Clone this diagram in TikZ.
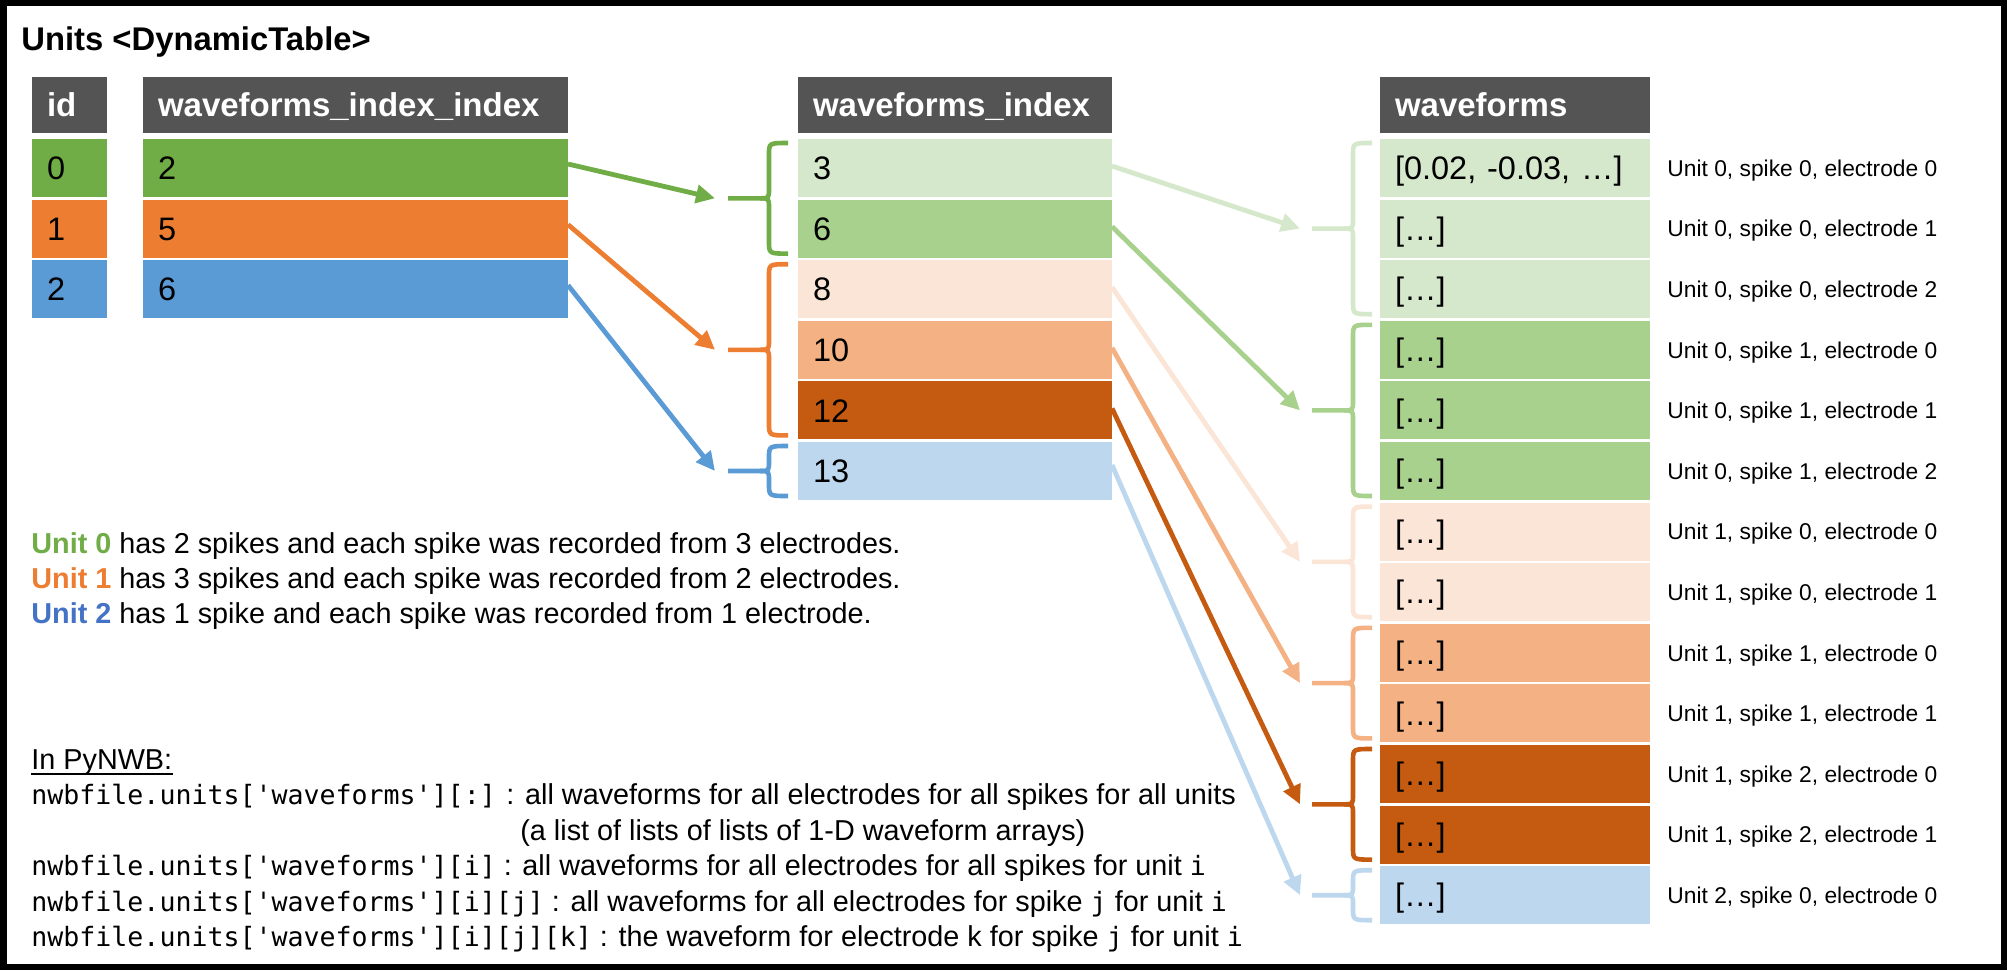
\documentclass[tikz,border=0pt]{standalone}
\usepackage{fontspec}
\setmainfont{Liberation Sans}
\newfontfamily\codefont{DejaVu Sans Mono}
\usetikzlibrary{arrows.meta}
\definecolor{hdr}{HTML}{545454}
\definecolor{gA}{HTML}{70AD47}
\definecolor{oA}{HTML}{ED7D31}
\definecolor{bA}{HTML}{5B9BD5}
\definecolor{gL}{HTML}{D5E8CB}
\definecolor{gM}{HTML}{A9D18E}
\definecolor{oL}{HTML}{FBE5D6}
\definecolor{oM}{HTML}{F4B183}
\definecolor{oD}{HTML}{C55A11}
\definecolor{bL}{HTML}{BDD7EE}
\definecolor{bT}{HTML}{4472C4}
\newcommand{\cdtxt}[1]{{\codefont\fontsize{13.3pt}{16pt}\selectfont #1}}
\newcommand{\mybrace}[5]{%
  \pgfmathsetmacro\mybm{(#3+#4)/2}%
  \draw[bracestyle,#1] (#2+19,#3) .. controls (#2,#3) .. (#2,#3+12) -- (#2,\mybm-10) .. controls (#2,\mybm) .. (#2-9,\mybm) -- (#5,\mybm);
  \draw[bracestyle,#1] (#2-9,\mybm) .. controls (#2,\mybm) .. (#2,\mybm+10) -- (#2,#4-12) .. controls (#2,#4) .. (#2+19,#4);
}
\tikzset{
  cell/.style={draw=none, inner xsep=7.5pt, inner ysep=0pt, outer sep=0pt,
    minimum height=29pt, text height=11.6pt, text depth=0pt,
    font=\fontsize{16.25pt}{19pt}\selectfont, align=left},
  hcell/.style={cell, fill=hdr, text=white, minimum height=28pt, text height=11.8pt,
    font=\bfseries\fontsize{16.5pt}{19pt}\selectfont},
  lab/.style={anchor=west, inner sep=0pt, text height=8.2pt, text depth=0pt,
    font=\fontsize{11.4pt}{13pt}\selectfont},
  body/.style={anchor=base west, inner sep=0pt, font=\fontsize{14.4pt}{17pt}\selectfont},
  bracestyle/.style={line width=2.3pt},
  arrowline/.style={line width=2.4pt, -{Triangle[length=9.5pt,width=9pt]}},
}
\begin{document}
\begin{tikzpicture}[x=0.5pt,y=-0.5pt]
\useasboundingbox (0,0) rectangle (2007,970);
\fill[white] (0,0) rectangle (2007,970);
\draw[line width=3.2pt] (3.5,3) rectangle (2004,967);

\node[anchor=base west, inner sep=0pt, font=\bfseries\fontsize{16.4pt}{19pt}\selectfont] (title) at (21,50) {Units <DynamicTable>};

% headers
\node[hcell, text width=22.5pt] (hid) at (69.5,105) {id};
\node[hcell, text width=197.5pt] (hwii) at (355.5,105) {waveforms\_index\_index};
\node[hcell, text width=142pt] (hwi) at (955,105) {waveforms\_index};
\node[hcell, text width=120pt] (hwf) at (1515,105) {waveforms};

% left table
\foreach \k/\v/\c in {0/2/gA,1/5/oA,2/6/bA}{
  \node[cell, text width=22.5pt, fill=\c] (id\k) at (69.5,{168+60.6*\k}) {\k};
  \node[cell, text width=197.5pt, fill=\c] (wii\k) at (355.5,{168+60.6*\k}) {\v};
}
% waveforms_index
\foreach \k/\v/\c in {0/3/gL,1/6/gM,2/8/oL,3/10/oM,4/12/oD,5/13/bL}{
  \node[cell, text width=142pt, fill=\c] (wi\k) at (955,{168+60.6*\k}) {\v};
}
% waveforms
\node[cell, text width=120pt, fill=gL] (wf0) at (1515,168) {[0.02, -0.03, …]};
\node[lab] (lb0) at (1667,168) {Unit 0, spike 0, electrode 0};
\foreach \k/\c/\lt in {1/gL/{Unit 0, spike 0, electrode 1},2/gL/{Unit 0, spike 0, electrode 2},
  3/gM/{Unit 0, spike 1, electrode 0},4/gM/{Unit 0, spike 1, electrode 1},5/gM/{Unit 0, spike 1, electrode 2},
  6/oL/{Unit 1, spike 0, electrode 0},7/oL/{Unit 1, spike 0, electrode 1},
  8/oM/{Unit 1, spike 1, electrode 0},9/oM/{Unit 1, spike 1, electrode 1},
  10/oD/{Unit 1, spike 2, electrode 0},11/oD/{Unit 1, spike 2, electrode 1},
  12/bL/{Unit 2, spike 0, electrode 0}}{
  \node[cell, text width=120pt, fill=\c] (wf\k) at (1515,{168+60.6*\k}) {[…]};
  \node[lab] (lb\k) at (1667,{168+60.6*\k}) {\lt};
}

% braces left
\mybrace{gA}{769}{143}{253.6}{728}
\mybrace{oA}{769}{264.2}{435.4}{728}
\mybrace{bA}{769}{446}{496}{728}
% braces right
\mybrace{gL}{1353}{143}{314.2}{1312}
\mybrace{gM}{1353}{324.8}{496}{1312}
\mybrace{oL}{1353}{506.6}{617.2}{1312}
\mybrace{oM}{1353}{627.8}{738.4}{1312}
\mybrace{oD}{1353}{749}{859.6}{1312}
\mybrace{bL}{1353}{870.2}{920.2}{1312}

% arrow targets
\coordinate (L0) at (715,198.3);
\coordinate (L1) at (715,349.8);
\coordinate (L2) at (715,471);
\coordinate (R0) at (1300,228.6);
\coordinate (R1) at (1300,410.4);
\coordinate (R2) at (1300,561.9);
\coordinate (R3) at (1300,683.1);
\coordinate (R4) at (1300,804.3);
\coordinate (R5) at (1300,895.2);

\draw[arrowline, gA] ([yshift=2pt]wii0.east) -- (L0);
\draw[arrowline, oA] ([yshift=2pt]wii1.east) -- (L1);
\draw[arrowline, bA] ([yshift=2pt]wii2.east) -- (L2);
\draw[arrowline, gL] ([yshift=1pt]wi0.east) -- (R0);
\draw[arrowline, gM] ([yshift=1pt]wi1.east) -- (R1);
\draw[arrowline, oL] ([yshift=1pt]wi2.east) -- (R2);
\draw[arrowline, oM] ([yshift=1pt]wi3.east) -- (R3);
\draw[arrowline, oD] ([yshift=1pt]wi4.east) -- (R4);
\draw[arrowline, bL] ([yshift=3pt]wi5.east) -- (R5);

% description
\node[body] (s0) at (31,553) {\textcolor{gA}{\bfseries Unit 0} has 2 spikes and each spike was recorded from 3 electrodes.};
\node[body] (s1) at (31,588) {\textcolor{oA}{\bfseries Unit 1} has 3 spikes and each spike was recorded from 2 electrodes.};
\node[body] (s2) at (31,623) {\textcolor{bT}{\bfseries Unit 2} has 1 spike and each spike was recorded from 1 electrode.};

\node[body] (pyn) at (31,769) {In PyNWB:};
\draw[line width=1.1pt] ([yshift=-2.6pt]pyn.base west) -- ([yshift=-2.6pt]pyn.base east);

\node[body] (c1) at (31,804) {\cdtxt{nwbfile.units[\char39 waveforms\char39][:]} : all waveforms for all electrodes for all spikes for all units};
\node[body] (c2) at (520,840) {(a list of lists of lists of 1-D waveform arrays)};
\node[body] (c3) at (31,875) {\cdtxt{nwbfile.units[\char39 waveforms\char39][i]} : all waveforms for all electrodes for all spikes for unit \cdtxt{i}};
\node[body] (c4) at (31,911) {\cdtxt{nwbfile.units[\char39 waveforms\char39][i][j]} : all waveforms for all electrodes for spike \cdtxt{j} for unit \cdtxt{i}};
\node[body] (c5) at (31,946) {\cdtxt{nwbfile.units[\char39 waveforms\char39][i][j][k]} : the waveform for electrode k for spike \cdtxt{j} for unit \cdtxt{i}};
\end{tikzpicture}
\end{document}
